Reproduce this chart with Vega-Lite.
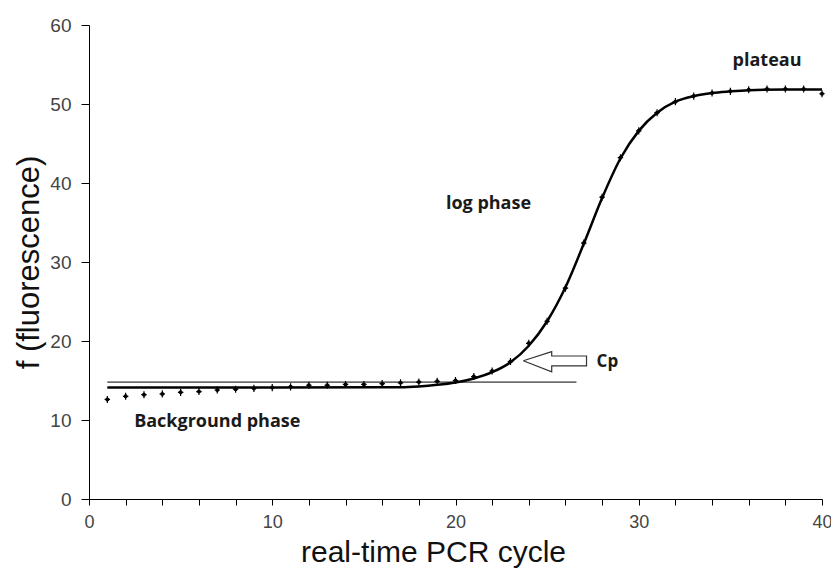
{
  "$schema": "https://vega.github.io/schema/vega-lite/v6.json",
  "width": 733,
  "height": 474,
  "autosize": {"type": "none"},
  "padding": {"left": 89, "top": 25, "right": 9, "bottom": 75},
  "background": "white",
  "config": {"view": {"stroke": null}},
  "datasets": {
    "obs": [
      {"cycle": 1, "f": 12.6}, {"cycle": 2, "f": 13.0}, {"cycle": 3, "f": 13.2}, {"cycle": 4, "f": 13.3},
      {"cycle": 5, "f": 13.5}, {"cycle": 6, "f": 13.6}, {"cycle": 7, "f": 13.8}, {"cycle": 8, "f": 13.9},
      {"cycle": 9, "f": 14.0}, {"cycle": 10, "f": 14.1}, {"cycle": 11, "f": 14.2}, {"cycle": 12, "f": 14.4},
      {"cycle": 13, "f": 14.4}, {"cycle": 14, "f": 14.5}, {"cycle": 15, "f": 14.5}, {"cycle": 16, "f": 14.6},
      {"cycle": 17, "f": 14.7}, {"cycle": 18, "f": 14.8}, {"cycle": 19, "f": 14.9}, {"cycle": 20, "f": 15.0},
      {"cycle": 21, "f": 15.5}, {"cycle": 22, "f": 16.2}, {"cycle": 23, "f": 17.4}, {"cycle": 24, "f": 19.7},
      {"cycle": 25, "f": 22.5}, {"cycle": 26, "f": 26.7}, {"cycle": 27, "f": 32.4}, {"cycle": 28, "f": 38.2},
      {"cycle": 29, "f": 43.2}, {"cycle": 30, "f": 46.6}, {"cycle": 31, "f": 48.9}, {"cycle": 32, "f": 50.3},
      {"cycle": 33, "f": 51.0}, {"cycle": 34, "f": 51.4}, {"cycle": 35, "f": 51.6}, {"cycle": 36, "f": 51.8},
      {"cycle": 37, "f": 51.9}, {"cycle": 38, "f": 51.9}, {"cycle": 39, "f": 51.9}, {"cycle": 40, "f": 51.3}
    ],
    "fit": [
      {"cycle": 1, "f": 14.1}, {"cycle": 10, "f": 14.1}, {"cycle": 17, "f": 14.15}, {"cycle": 18, "f": 14.25},
      {"cycle": 19, "f": 14.45}, {"cycle": 20, "f": 14.75}, {"cycle": 21, "f": 15.25}, {"cycle": 22, "f": 16.05},
      {"cycle": 23, "f": 17.3}, {"cycle": 24, "f": 19.4}, {"cycle": 25, "f": 22.5}, {"cycle": 26, "f": 26.8},
      {"cycle": 27, "f": 32.3}, {"cycle": 28, "f": 38.1}, {"cycle": 29, "f": 43.1}, {"cycle": 30, "f": 46.6},
      {"cycle": 31, "f": 48.9}, {"cycle": 32, "f": 50.3}, {"cycle": 33, "f": 51.0}, {"cycle": 34, "f": 51.4},
      {"cycle": 35, "f": 51.6}, {"cycle": 36, "f": 51.75}, {"cycle": 38, "f": 51.85}, {"cycle": 40, "f": 51.85}
    ],
    "threshold": [
      {"cycle": 1, "f": 14.8}, {"cycle": 26.6, "f": 14.8}
    ],
    "arrow": [
      {"i": 0, "cycle": 23.7, "f": 17.5}, {"i": 1, "cycle": 25.25, "f": 18.65}, {"i": 2, "cycle": 25.25, "f": 18.1},
      {"i": 3, "cycle": 27.15, "f": 18.1}, {"i": 4, "cycle": 27.15, "f": 16.85}, {"i": 5, "cycle": 25.25, "f": 16.85},
      {"i": 6, "cycle": 25.25, "f": 16.1}, {"i": 7, "cycle": 23.7, "f": 17.5}
    ],
    "labels": [
      {"cycle": 37.0, "f": 55.5, "label": "plateau"},
      {"cycle": 21.8, "f": 37.3, "label": "log phase"},
      {"cycle": 7.0, "f": 9.7, "label": "Background phase"}
    ],
    "cp": [
      {"cycle": 27.7, "f": 17.4, "label": "Cp"}
    ]
  },
  "encoding": {
    "x": {
      "field": "cycle", "type": "quantitative",
      "scale": {"domain": [0, 40], "nice": false, "zero": false},
      "axis": {
        "title": "real-time PCR cycle",
        "values": [0, 2, 4, 6, 8, 10, 12, 14, 16, 18, 20, 22, 24, 26, 28, 30, 32, 34, 36, 38, 40],
        "labelExpr": "datum.value % 10 === 0 ? datum.label : ''",
        "grid": false, "domainColor": "black", "tickColor": "black", "tickSize": 6,
        "labelPadding": 8, "labelFont": "Liberation Sans", "labelFontSize": 18, "labelColor": "#444",
        "labelFlush": false, "labelOverlap": false,
        "titleFont": "Liberation Sans", "titleFontSize": 30, "titleFontWeight": "normal", "titleColor": "#111",
        "titlePadding": 6, "titleX": 344
      }
    },
    "y": {
      "field": "f", "type": "quantitative",
      "scale": {"domain": [0, 60], "nice": false},
      "axis": {
        "title": "f (fluorescence)",
        "values": [0, 10, 20, 30, 40, 50, 60],
        "grid": false, "domainColor": "black", "tickColor": "black", "tickSize": 8,
        "labelPadding": 10, "labelFont": "Liberation Sans", "labelFontSize": 19, "labelColor": "#444",
        "labelFlush": false,
        "titleFont": "Liberation Sans", "titleFontSize": 31, "titleFontWeight": "normal", "titleColor": "#111",
        "titlePadding": 4
      }
    }
  },
  "layer": [
    {
      "data": {"name": "threshold"},
      "mark": {"type": "line", "color": "black", "strokeWidth": 1},
      "encoding": {}
    },
    {
      "data": {"name": "fit"},
      "mark": {"type": "line", "color": "black", "strokeWidth": 2.5, "interpolate": "monotone"},
      "encoding": {}
    },
    {
      "data": {"name": "obs"},
      "mark": {"type": "point", "shape": "circle", "filled": true, "color": "black", "size": 16, "opacity": 1},
      "encoding": {}
    },
    {
      "data": {"name": "obs"},
      "mark": {"type": "point", "shape": "M-1,0H1M0,-1.3V1.3", "filled": false, "color": "black", "size": 30, "strokeWidth": 1.2, "opacity": 1},
      "encoding": {}
    },
    {
      "data": {"name": "arrow"},
      "mark": {"type": "line", "color": "#333", "strokeWidth": 1.2},
      "encoding": {"order": {"field": "i", "type": "quantitative"}}
    },
    {
      "data": {"name": "labels"},
      "mark": {"type": "text", "font": "Open Sans", "fontWeight": "bold", "fontSize": 18, "color": "#1a1a1a", "align": "center", "baseline": "middle"},
      "encoding": {"text": {"field": "label"}}
    },
    {
      "data": {"name": "cp"},
      "mark": {"type": "text", "font": "Open Sans", "fontWeight": "bold", "fontSize": 17, "color": "#1a1a1a", "align": "left", "baseline": "middle"},
      "encoding": {"text": {"field": "label"}}
    }
  ]
}
